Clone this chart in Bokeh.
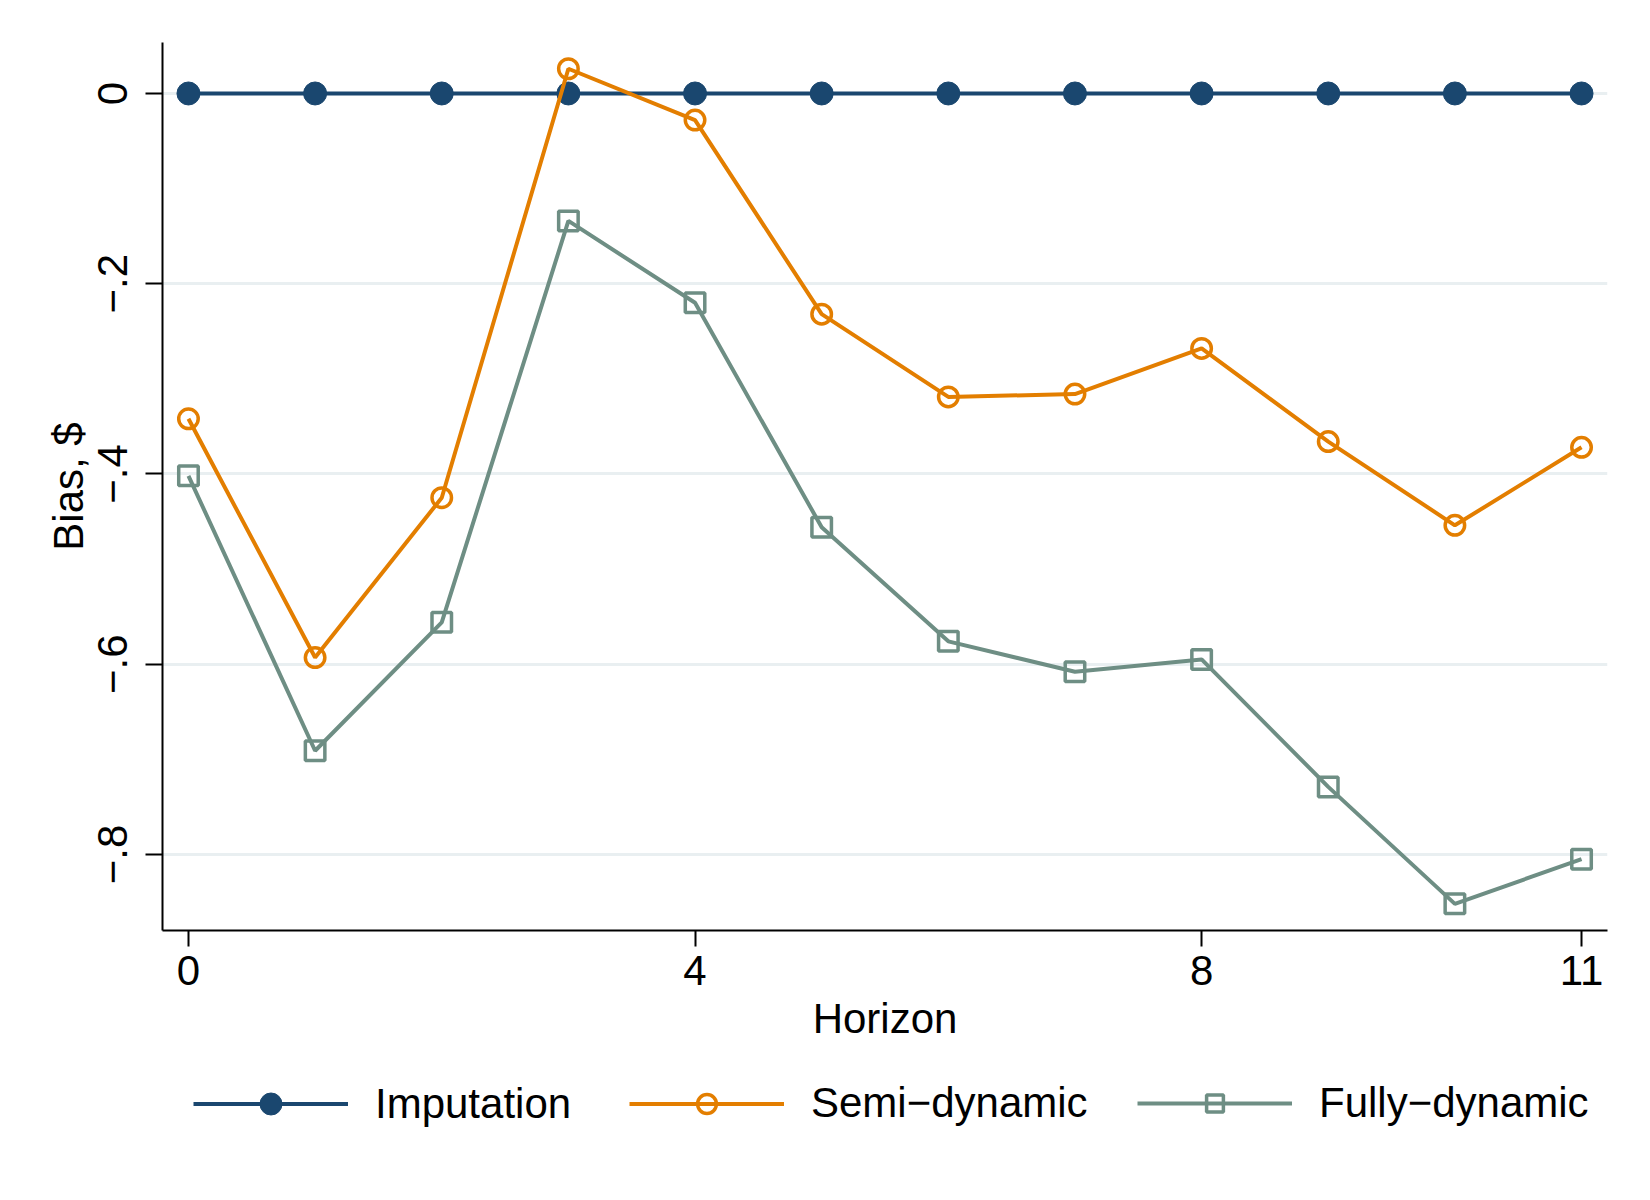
from bokeh.plotting import figure
from bokeh.layouts import column
from bokeh.models import Range1d, FixedTicker, Legend, LegendItem
from bokeh.embed import file_html
from bokeh.resources import INLINE

horizon = [0, 1, 2, 3, 4, 5, 6, 7, 8, 9, 10, 11]
imputation = [0, 0, 0, 0, 0, 0, 0, 0, 0, 0, 0, 0]
semi_dynamic = [-0.342, -0.593, -0.425, 0.026, -0.028, -0.232, -0.319, -0.316, -0.268, -0.366, -0.454, -0.372]
fully_dynamic = [-0.402, -0.691, -0.556, -0.134, -0.220, -0.456, -0.576, -0.608, -0.595, -0.729, -0.852, -0.805]

series_names = ["Imputation", "Semi\u2212dynamic", "Fully\u2212dynamic"]
x_ticks = [0, 4, 8, 11]
y_ticks = [0, -0.2, -0.4, -0.6, -0.8]
y_tick_labels = ["0", "\u2212.2", "\u2212.4", "\u2212.6", "\u2212.8"]

FONT = "Liberation Sans"
FS = "42px"
NAVY = "#1a476f"
ORANGE = "#e37e00"
TEAL = "#6e8e84"

H1 = 1070
p = figure(width=1634, height=H1, output_backend="svg", toolbar_location=None,
           x_range=Range1d(-0.205, 11.205), y_range=Range1d(-0.880, 0.0536),
           min_border_left=162, min_border_right=27, min_border_top=42,
           min_border_bottom=H1 - 42 - 888)
p.outline_line_color = None
p.background_fill_color = "white"
p.border_fill_color = "white"

p.xgrid.grid_line_color = None
p.ygrid.grid_line_color = "#e9eff1"
p.ygrid.grid_line_width = 3

p.xaxis.ticker = FixedTicker(ticks=x_ticks)
p.yaxis.ticker = FixedTicker(ticks=y_ticks)
p.yaxis.major_label_overrides = {v: s for v, s in zip(y_ticks, y_tick_labels)}
p.yaxis.major_label_orientation = "vertical"

for ax in (p.xaxis, p.yaxis):
    ax.axis_line_color = "black"
    ax.axis_line_width = 2
    ax.major_tick_line_color = "black"
    ax.major_tick_line_width = 2
    ax.major_tick_in = 0
    ax.minor_tick_line_color = None
    ax.major_label_text_font = FONT
    ax.major_label_text_font_size = FS
    ax.major_label_text_color = "black"
    ax.axis_label_text_font = FONT
    ax.axis_label_text_font_size = FS
    ax.axis_label_text_font_style = "normal"
    ax.axis_label_text_color = "black"

p.xaxis.major_tick_out = 16
p.yaxis.major_tick_out = 17
p.xaxis.major_label_standoff = 9
p.yaxis.major_label_standoff = 18
p.xaxis.axis_label = "Horizon"
p.yaxis.axis_label = "Bias, $"
p.xaxis.axis_label_standoff = 7
p.yaxis.axis_label_standoff = 4

styles = [
    dict(color=NAVY, marker="circle", size=23, fill=NAVY, lw=1),
    dict(color=ORANGE, marker="circle", size=19.5, fill=None, lw=3.5),
    dict(color=TEAL, marker="square", size=19.5, fill=None, lw=3.5),
]
series = [imputation, semi_dynamic, fully_dynamic]
for ys, st in zip(series, styles):
    p.line(horizon, ys, line_color=st["color"], line_width=4)
    p.scatter(horizon, ys, marker=st["marker"], size=st["size"], fill_color=st["fill"],
              line_color=st["color"], line_width=st["lw"])

# legend strip below the plot (its frame is aligned with the main plot's frame)
H2 = 114
q = figure(width=1634, height=H2, output_backend="svg", toolbar_location=None,
           x_range=Range1d(100, 101), y_range=Range1d(100, 101), x_axis_type=None, y_axis_type=None,
           min_border=0)
q.outline_line_color = None
q.xgrid.grid_line_color = None
q.ygrid.grid_line_color = None
q.background_fill_color = "white"
q.border_fill_color = "white"

legend_x = [31, 467, 975]
legend_glyph_h = [55, 47, 42]
legend_y = [53, 57, 57]
for name, ys, st, lx, gh, ly in zip(series_names, series, styles, legend_x, legend_glyph_h, legend_y):
    lr = q.line(horizon, ys, line_color=st["color"], line_width=4)
    sr = q.scatter(horizon, ys, marker=st["marker"], size=st["size"], fill_color=st["fill"],
                   line_color=st["color"], line_width=st["lw"])
    lg = Legend(items=[LegendItem(label=name, renderers=[lr, sr])], location=(lx, ly),
                orientation="horizontal", glyph_width=155, glyph_height=gh, label_height=40,
                label_standoff=27, padding=0, margin=0, spacing=0,
                border_line_color=None, background_fill_alpha=0,
                label_text_font=FONT, label_text_font_size=FS, label_text_color="black")
    q.add_layout(lg, "center")

layout = column(p, q, spacing=0)
open("out.html", "w").write(file_html(layout, INLINE))
